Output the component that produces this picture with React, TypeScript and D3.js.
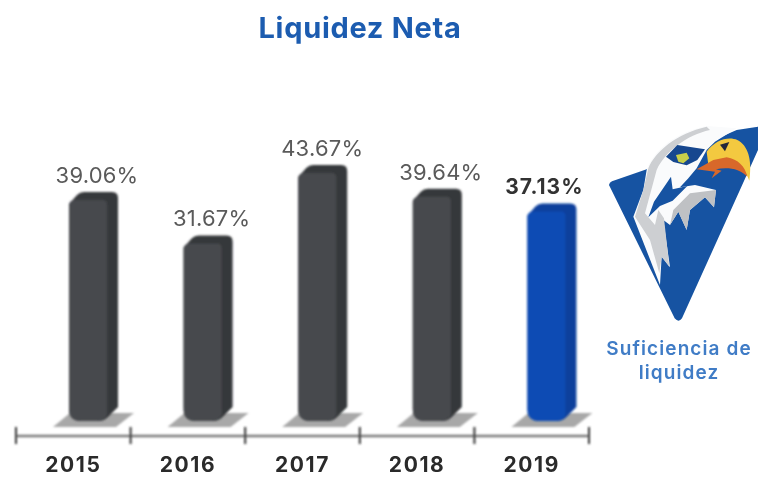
import React from "react";
import * as d3 from "d3";

const years = ["2015", "2016", "2017", "2018", "2019"];
const liquidez = [39.06, 31.67, 43.67, 39.64, 37.13];
const labels = ["39.06%", "31.67%", "43.67%", "39.64%", "37.13%"];
const titleText = "Liquidez Neta";
const logoCaption = ["Suficiencia de", "liquidez"];
const sans = "Inter, Roboto, 'Liberation Sans', sans-serif";

const x = d3.scaleBand<string>().domain(years).range([16, 589]).padding(0);
const y = d3.scaleLinear().domain([0, 45]).range([421, 157.3]);

function barPath(x0: number, top: number, w: number, bottom: number) {
  const p = d3.path();
  p.moveTo(x0, top + 12);
  p.lineTo(x0 + 8, top + 3);
  p.quadraticCurveTo(x0 + 11, top, x0 + 15, top);
  p.lineTo(w + x0 - 6, top);
  p.quadraticCurveTo(w + x0, top, w + x0, top + 6);
  p.lineTo(w + x0, bottom - 14);
  p.lineTo(x0 + w - 10, bottom - 4);
  p.quadraticCurveTo(x0 + w - 14, bottom, x0 + w - 19, bottom);
  p.lineTo(x0 + 12, bottom);
  p.quadraticCurveTo(x0, bottom, x0, bottom - 12);
  p.closePath();
  return p.toString();
}
function frontPath(x0: number, top: number, w: number, bottom: number) {
  const p = d3.path();
  p.moveTo(x0, top + 14);
  p.quadraticCurveTo(x0, top + 8, x0 + 6, top + 8);
  p.lineTo(x0 + w - 4, top + 8);
  p.quadraticCurveTo(x0 + w, top + 8, x0 + w, top + 13);
  p.lineTo(x0 + w, bottom - 6);
  p.quadraticCurveTo(x0 + w - 3, bottom, x0 + w - 10, bottom);
  p.lineTo(x0 + 12, bottom);
  p.quadraticCurveTo(x0, bottom, x0, bottom - 12);
  p.closePath();
  return p.toString();
}
function shadowPath(x0: number, bottom: number) {
  const p = d3.path();
  p.moveTo(x0 - 16, bottom + 6);
  p.lineTo(x0 + 1, bottom - 8);
  p.lineTo(x0 + 65, bottom - 8);
  p.lineTo(x0 + 47, bottom + 6);
  p.closePath();
  return p.toString();
}

export default function App() {
  const bottom = y(0);
  const axisY = 436;
  const ticks = [...years.map((d) => x(d)!), 589];
  return (
    <svg width={758} height={477} style={{ position: "absolute", left: 0, top: 0, background: "#fff" }}>
      <defs>
        <filter id="soft" x="-10%" y="-10%" width="120%" height="120%">
          <feGaussianBlur stdDeviation="0.8" />
        </filter>
        <filter id="softer" x="-20%" y="-40%" width="140%" height="180%">
          <feGaussianBlur stdDeviation="1.3" />
        </filter>
        <filter id="txt" x="-10%" y="-20%" width="120%" height="140%">
          <feGaussianBlur stdDeviation="0.4" />
        </filter>
      </defs>
      <text x={360} y={38} textAnchor="middle" fontFamily={sans} fontWeight={700} fontSize={29} letterSpacing={0.7} fill="#1c5cb0" filter="url(#txt)">
        {titleText}
      </text>
      <g>
        {years.map((d) => (
          <path key={d} d={shadowPath(x(d)! + 53, bottom)} fill="#a8a8a8" filter="url(#softer)" />
        ))}
      </g>
      <g filter="url(#soft)">
        {years.map((d, i) => {
          const x0 = x(d)! + 53;
          const w = 49;
          const top = y(liquidez[i]);
          const blue = i === 4;
          return (
            <g key={d}>
              <path d={barPath(x0, top, w, bottom)} fill={blue ? "#0c3f9c" : "#36383b"} />
              <path d={frontPath(x0, top, 38, bottom)} fill={blue ? "#0f4cb4" : "#47494d"} />
            </g>
          );
        })}
        <line x1={16} x2={589} y1={axisY} y2={axisY} stroke="#7a7a7a" strokeWidth={2.5} />
        {ticks.map((t) => (
          <line key={t} x1={t} x2={t} y1={axisY - 9} y2={axisY + 8} stroke="#333" strokeWidth={2} />
        ))}
      </g>
      {years.map((d) => (
        <text key={d} x={x(d)! + x.bandwidth() / 2} y={472} textAnchor="middle" fontFamily={sans} fontWeight={700} fontSize={21} letterSpacing={1.6} fill="#2b2b2b" filter="url(#txt)">
          {d}
        </text>
      ))}
      {years.map((d, i) => (
        <text
          key={d}
          x={x(d)! + 81 + (i === 4 ? -11 : i === 2 ? -4 : 0)}
          y={y(liquidez[i]) - 9}
          textAnchor="middle"
          fontFamily={sans}
          fontWeight={i === 4 ? 700 : 400}
          fontSize={i === 4 ? 21 : 22}
          letterSpacing={i === 4 ? 1 : 0.2}
          fill={i === 4 ? "#333" : "#5a5a5a"}
          filter="url(#txt)"
        >
          {labels[i]}
        </text>
      ))}
      <g transform="translate(590,110) scale(0.3333)" filter="url(#soft)">
        <path d="M57,225 Q58,218 66,214 L170,178 L440,60 L504,50 L504,120 L276,625 Q266,640 254,625 Z" fill="#1553a2" />
        <path d="M170,180 C190,120 260,65 350,48 L440,55 L375,95 L350,120 L320,175 L295,205 L270,232 L315,225 L378,240 L372,292 L345,262 L300,300 L290,360 L265,305 L240,345 L220,330 L240,472 L215,440 L210,525 L130,320 L160,240 Z" fill="#fafbfc" />
        <path d="M175,175 C195,125 260,70 350,50 L360,60 C290,75 225,125 200,180 L165,310 L195,345 L205,300 L222,325 L238,470 L215,440 L208,490 L180,390 L135,320 L160,240 Z" fill="#cdcfd2" />
        <path d="M300,250 L378,240 L372,292 L345,262 L300,300 L290,360 L265,305 L240,345 L250,300 Z" fill="#bfc1c4" />
        <path d="M243,200 L192,275 L175,322 L210,288 L248,272 L292,228 L248,238 Z" fill="#1553a2" />
        <path d="M228,140 L262,105 L345,118 L322,150 L290,166 L250,156 Z" fill="#15478f" />
        <path d="M258,135 L290,128 L298,145 L280,160 L265,155 Z" fill="#c9cf4a" />
        <path d="M350,125 C375,90 415,78 442,90 C472,105 488,145 478,212 C465,175 440,150 400,150 L355,165 Z" fill="#f3c93f" />
        <path d="M320,178 L370,150 L410,142 C445,148 465,170 472,200 C450,175 410,170 378,178 L395,182 L365,205 L375,185 Z" fill="#d8672b" />
        <path d="M390,104 L418,96 L405,124 Z" fill="#23283a" />
      </g>
      <text x={679} y={355} textAnchor="middle" fontFamily={sans} fontWeight={600} fontSize={19} letterSpacing={1.1} fill="#3f7cc6" filter="url(#txt)">
        {logoCaption[0]}
      </text>
      <text x={679} y={379} textAnchor="middle" fontFamily={sans} fontWeight={600} fontSize={19} letterSpacing={1.1} fill="#3f7cc6" filter="url(#txt)">
        {logoCaption[1]}
      </text>
    </svg>
  );
}
